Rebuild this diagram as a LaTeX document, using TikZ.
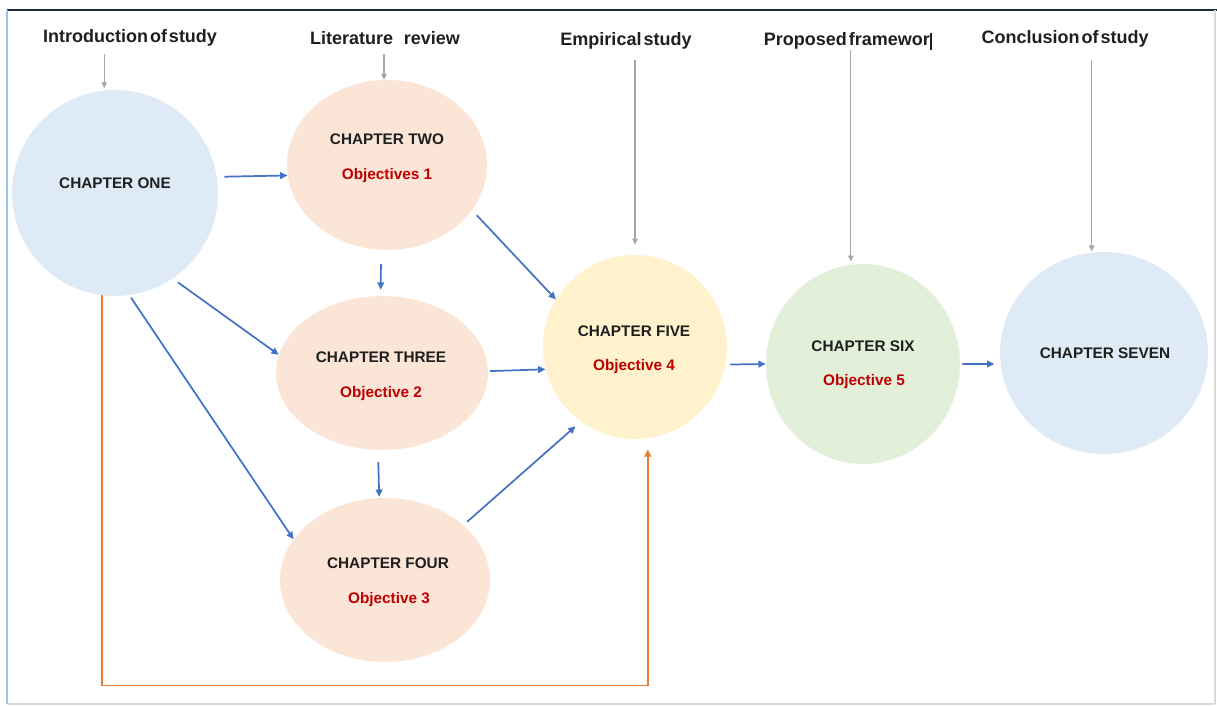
\documentclass[tikz,border=0pt]{standalone}
\usepackage{fontspec}
\setmainfont{Liberation Sans}
\newfontfamily\headfont[WordSpace=0.4]{Liberation Sans}
\usetikzlibrary{shapes.geometric,arrows.meta}
\definecolor{chblue}{HTML}{DEEBF7}
\definecolor{chpeach}{HTML}{FBE5D6}
\definecolor{chyellow}{HTML}{FFF2CC}
\definecolor{chgreen}{HTML}{E2F0D9}
\definecolor{flowblue}{HTML}{4472C4}
\definecolor{flowgray}{HTML}{A6A6A6}
\definecolor{floworange}{HTML}{ED7D31}
\definecolor{objred}{HTML}{C00000}
\definecolor{framenavy}{HTML}{1F2A44}
\definecolor{frameblue}{HTML}{9DC3E6}
\definecolor{framegray}{HTML}{D9D9D9}

\begin{document}
\begin{tikzpicture}[x=0.75pt,y=-0.75pt,
  chapter/.style={ellipse,draw=none,inner sep=0pt},
  title/.style={font=\bfseries\fontsize{11.5}{13}\selectfont,text=black!88,inner sep=0pt},
  objective/.style={font=\bfseries\fontsize{11.5}{13}\selectfont,text=objred,inner sep=0pt},
  phase/.style={font=\headfont\bfseries\fontsize{13.5}{16}\selectfont,text=black!88,inner sep=0pt,
    text height=10pt,text depth=3pt},
  bluearr/.style={draw=flowblue,line width=1.3pt,-{Triangle[length=5.5pt,width=5pt]}},
  grayarr/.style={draw=flowgray,line width=0.9pt,-{Triangle[length=4.5pt,width=4pt]}},
  orangearr/.style={draw=floworange,line width=1.4pt,-{Triangle[length=5.5pt,width=5pt]}}]

\useasboundingbox (0,0) rectangle (1217,706);

% window frame
\draw[framenavy,line width=1.5pt] (7,10) -- (1217,10);
\draw[frameblue,line width=1.5pt] (7,10) -- (7,704);
\draw[framegray,line width=1.2pt] (7,704) -- (1215,704);
\draw[framegray,line width=1.5pt] (1215,10) -- (1215,704);

% chapters
\node[chapter,fill=chblue,minimum width=154.5pt,minimum height=154.5pt] (one) at (115,193) {};
\node[chapter,fill=chpeach,minimum width=150pt,minimum height=127.5pt] (two) at (387,165) {};
\node[chapter,fill=chpeach,minimum width=159pt,minimum height=115.5pt] (three) at (382,373) {};
\node[chapter,fill=chpeach,minimum width=157.5pt,minimum height=123pt] (four) at (385,580) {};
\node[chapter,fill=chyellow,minimum width=138pt,minimum height=138pt] (five) at (635,347) {};
\node[chapter,fill=chgreen,minimum width=145.5pt,minimum height=150pt] (six) at (863,364) {};
\node[chapter,fill=chblue,minimum width=156pt,minimum height=151.5pt] (seven) at (1104,353) {};

% chapter texts
\node[title] (one-t) at (115,183) {CHAPTER ONE};
\node[title] (two-t) at (387,139) {CHAPTER TWO};
\node[objective] (two-o) at (387,176) {Objectives 1};
\node[title] (three-t) at (381,357) {CHAPTER THREE};
\node[objective] (three-o) at (381,394) {Objective 2};
\node[title] (four-t) at (388,563) {CHAPTER FOUR};
\node[objective] (four-o) at (389,600) {Objective 3};
\node[title] (five-t) at (634,331) {CHAPTER FIVE};
\node[objective] (five-o) at (634,367) {Objective 4};
\node[title] (six-t) at (863,346) {CHAPTER SIX};
\node[objective] (six-o) at (864,382) {Objective 5};
\node[title] (seven-t) at (1105,353) {CHAPTER SEVEN};

% phase headings
\node[phase] (intro) at (130,38) {Introduction of study};
\node[phase] (litrev) at (385,40) {Literature\hspace{8pt}review};
\node[phase] (empir) at (626,41) {Empirical study};
\node[phase] (propfw) at (848,41) {Proposed framewor\kern0.3pt\vrule width 1.4pt height 9.8pt};
\node[phase] (concl) at (1065,39) {Conclusion of study};

% phase pointers
\draw[grayarr,shorten <=5.25pt,shorten >=1.5pt] (intro.south -| one.96) -- (one.96);
\draw[grayarr,shorten <=3.75pt] (litrev.south -| two.92) -- (two.92);
\draw[grayarr,shorten <=7.5pt,shorten >=7.5pt] (empir.south -| five.north) -- (five.north);
\draw[grayarr,shorten >=2.25pt] (propfw.south -| six.97) -- (six.97);
\draw[grayarr,shorten <=9pt,shorten >=0.75pt] (concl.south -| seven.97) -- (seven.97);

% flow between chapters
\draw[bluearr,shorten <=5.6pt] (one.9) -- (two.186);
\draw[bluearr,shorten <=10.5pt,shorten >=4.5pt] (two.266) -- (three.91);
\draw[bluearr,shorten <=4.9pt] (one.-56) -- (three.170);
\draw[bluearr,shorten <=2.25pt] (one.-82) -- (four.156);
\draw[bluearr,shorten <=5.1pt] (two.-28) -- (five.149);
\draw[bluearr,shorten <=1.5pt] (three.1.6) -- (five.194.5);
\draw[bluearr,shorten <=9pt,shorten >=0.75pt] (three.267) -- (four.94);
\draw[bluearr,shorten <=3.75pt,shorten >=5.25pt] (four.35) -- (five.234);
\draw[bluearr,shorten <=3.5pt] (five.-11) -- (six.180);
\draw[bluearr,shorten <=1.5pt,shorten >=4.5pt] (six.0) -- (seven.186);

% feedback from chapter one to chapter five
\draw[orangearr,shorten >=8.25pt] (one.263) -- ++(0,390) -| (five.278);
\end{tikzpicture}
\end{document}
